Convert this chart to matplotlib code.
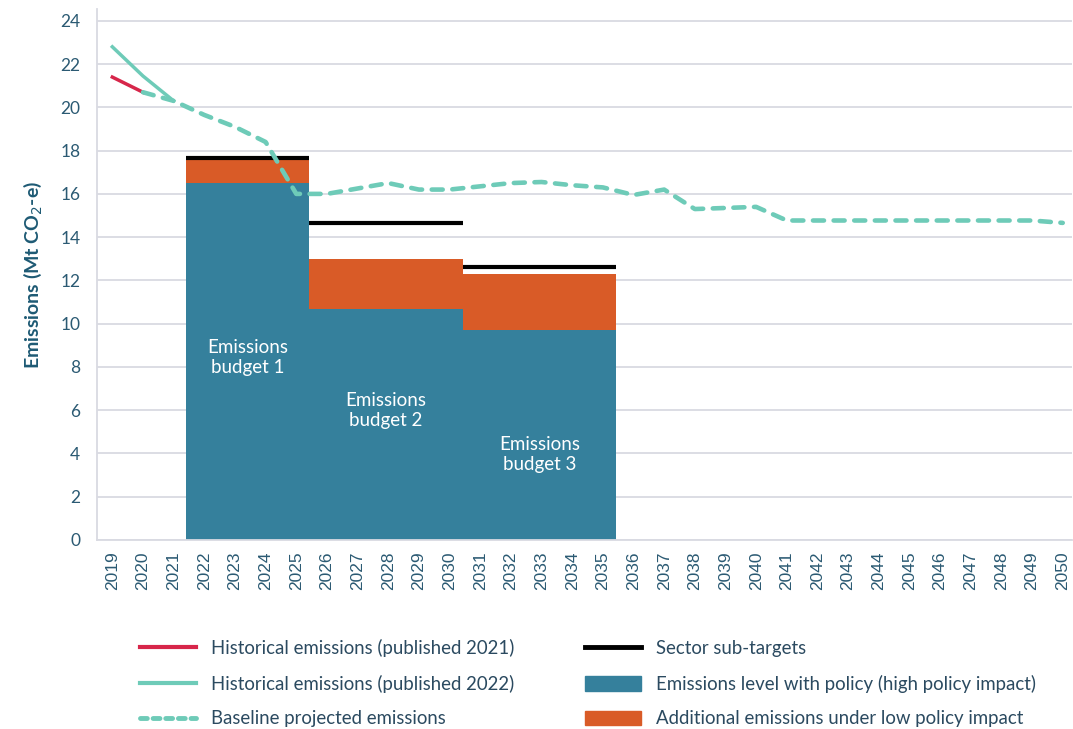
import matplotlib.pyplot as plt
import numpy as np

years = list(range(2019, 2051))

hist_2021_years = [2019, 2020]
hist_2021 = [21.4, 20.7]

hist_2022_years = [2019, 2020, 2021]
hist_2022 = [22.8, 21.45, 20.3]

base_years = list(range(2020, 2051))
baseline = [20.7, 20.3, 19.65, 19.1, 18.4, 16.0, 16.0, 16.25, 16.5, 16.2,
            16.2, 16.35, 16.5, 16.55, 16.4, 16.3, 15.95, 16.2, 15.3, 15.35,
            15.4, 14.77, 14.77, 14.77, 14.77, 14.77, 14.77, 14.77, 14.77, 14.77,
            14.66]

budget_start = [2021.41, 2025.43, 2030.43]
budget_end = [2025.43, 2030.43, 2035.43]
budget_labels = ['Emissions\nbudget 1', 'Emissions\nbudget 2', 'Emissions\nbudget 3']
high_policy = [16.5, 10.7, 9.7]
low_policy_top = [17.55, 13.0, 12.3]
sub_targets = [17.65, 14.65, 12.6]
label_y = [8.42, 5.97, 3.95]

BLUE = '#35809c'
ORANGE = '#d95b27'
RED = '#d7264a'
TEAL = '#6ecbb8'
TXT = '#2b5a73'

plt.rcParams['font.family'] = ['Lato', 'DejaVu Sans']

fig = plt.figure(figsize=(10.73, 7.29), dpi=100)
ax = fig.add_axes([0.0904, 0.2593, 0.9086, 0.7284])

for s, e, hp, lp, st, lab, ly in zip(budget_start, budget_end, high_policy,
                                     low_policy_top, sub_targets, budget_labels, label_y):
    ax.bar(s, hp, width=e - s, align='edge', color=BLUE, zorder=2)
    ax.bar(s, lp - hp, bottom=hp, width=e - s, align='edge', color=ORANGE, zorder=2)
    ax.plot([s, e], [st, st], color='black', lw=3, zorder=3, solid_capstyle='butt')
    ax.text((s + e) / 2, ly, lab, color='white', ha='center', va='center',
            fontsize=13.5, linespacing=1.2, zorder=4)

ax.plot(hist_2021_years, hist_2021, color=RED, lw=2.5, zorder=5)
ax.plot(hist_2022_years, hist_2022, color=TEAL, lw=2.5, zorder=5)
ax.plot(base_years, baseline, color=TEAL, lw=3.3, dashes=(2.4, 2.1),
        dash_capstyle='round', zorder=5)

ax.set_xlim(2018.5, 2050.3)
ax.set_ylim(0, 24.55)
ax.set_yticks(range(0, 25, 2))
ax.set_xticks(years)
ax.set_xticklabels([str(y) for y in years], rotation=90, fontsize=12.5,
                   family='Liberation Sans', color=TXT)
ax.tick_params(axis='y', labelsize=12.5, colors=TXT, length=0, pad=12)
ax.tick_params(axis='x', length=0, pad=8)
ax.grid(axis='y', color='#d9dae2', lw=1.3, zorder=0)
ax.set_axisbelow(True)
for side in ['top', 'right']:
    ax.spines[side].set_visible(False)
for side in ['left', 'bottom']:
    ax.spines[side].set_color('#d9dae2')
    ax.spines[side].set_linewidth(1.3)
    ax.spines[side].set_zorder(6)

ax.set_ylabel('Emissions (Mt CO$_2$-e)', fontsize=14, fontweight='bold',
              color='#1e5a74', labelpad=12)

handles = [
    plt.Line2D([], [], color=RED, lw=3),
    plt.Line2D([], [], color=TEAL, lw=3),
    plt.Line2D([], [], color=TEAL, lw=3.5, dashes=(1.4, 1.2), dash_capstyle='round'),
    plt.Line2D([], [], color='black', lw=3.5),
    plt.Rectangle((0, 0), 1, 1, color=BLUE),
    plt.Rectangle((0, 0), 1, 1, color=ORANGE),
]
labels = [
    'Historical emissions (published 2021)',
    'Historical emissions (published 2022)',
    'Baseline projected emissions',
    'Sector sub-targets',
    'Emissions level with policy (high policy impact)',
    'Additional emissions under low policy impact',
]
fig.legend(handles, labels, ncol=2, loc='upper left', bbox_to_anchor=(0.1305, 0.1235),
           bbox_transform=fig.transFigure, frameon=False, fontsize=13.4,
           labelcolor='#2b4a60', handlelength=3.0, handleheight=0.85,
           handletextpad=0.8, columnspacing=3.8, labelspacing=0.95,
           borderaxespad=0, borderpad=0)

fig.savefig('out.png', dpi=100)
